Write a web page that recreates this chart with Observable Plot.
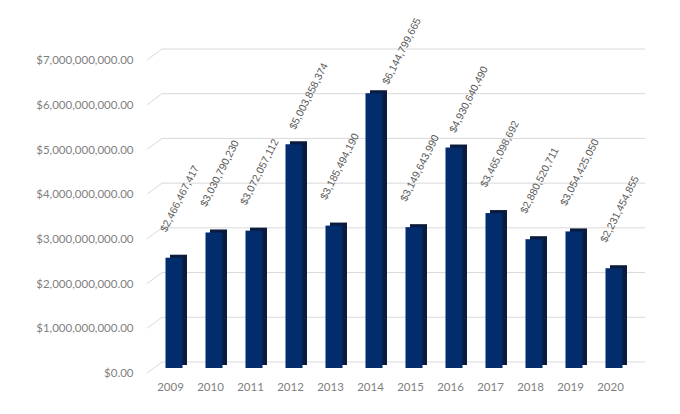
<!DOCTYPE html>
<html><head><meta charset="utf-8">
<script src="https://cdn.jsdelivr.net/npm/d3@7"></script>
<script src="https://cdn.jsdelivr.net/npm/@observablehq/plot@0.6"></script>
<style>body{margin:0;background:#fff;}</style>
</head><body><div id="chart"></div>
<script>
const years = ["2009","2010","2011","2012","2013","2014","2015","2016","2017","2018","2019","2020"];
const values = [2466467417, 3030790230, 3072057112, 5003858374, 3185494190, 6144799665, 3149643990, 4930640490, 3465098692, 2880520711, 3054425050, 2231454855];
const yTicks = [0, 1e9, 2e9, 3e9, 4e9, 5e9, 6e9, 7e9];

const data = years.map((year, i) => ({year, value: values[i]}));
const fmtAxis = d3.format("$,.2f");
const fmtLabel = d3.format("$,");

const backGrid = Plot.ruleY(yTicks, {
  y: d => d,
  render(index, scales, values, dims) {
    const g = d3.create("svg:g");
    const x0 = dims.marginLeft, x1 = dims.width - dims.marginRight;
    for (const i of index) {
      const y = scales.y(yTicks[i]);
      g.append("path")
        .attr("d", `M${x0 - 5},${y + 5}L${x0 + 10},${y - 6}L${x1 + 10},${y - 6}`)
        .attr("fill", "none").attr("stroke", "#d9d9d9").attr("stroke-width", 1);
    }
    return g.node();
  }
});

// rotated value labels, offset in screen space from the bar top centre
function valueLabels(sub, ox, oy) {
  return Plot.text(sub, {
    x: "year", y: "value", text: d => fmtLabel(d.value),
    render(index, scales, values, dims) {
      const half = (dims.width - dims.marginLeft - dims.marginRight) / years.length / 2;
      const g = d3.create("svg:g")
        .attr("font-family", "Liberation Sans, Arial, sans-serif")
        .attr("font-size", 10.5).attr("fill", "#595959").attr("text-anchor", "start");
      for (const i of index) {
        const cx = scales.x(sub[i].year) + half;
        const cy = scales.y(sub[i].value);
        g.append("text")
          .attr("transform", `translate(${cx + ox},${cy + oy}) rotate(-63)`)
          .text(fmtLabel(sub[i].value));
      }
      return g.node();
    }
  });
}

const chart = Plot.plot({
  width: 680, height: 414,
  marginLeft: 152, marginRight: 45, marginTop: 55, marginBottom: 46,
  style: {background: "#fff", overflow: "visible"},
  x: {domain: years, padding: 0, label: null},
  y: {domain: [0, 7e9], label: null},
  marks: [
    backGrid,
    Plot.barY(data, {x: "year", y: "value", fill: "#0b1b3e", insetLeft: 11.5, insetRight: 11.5, dx: 4.5, dy: -3}),
    Plot.barY(data, {x: "year", y: "value", fill: "#032c6c", insetLeft: 11.5, insetRight: 11.5}),
    valueLabels(data.filter(d => d.value < 4.5e9), -8, -25),
    valueLabels(data.filter(d => d.value >= 4.5e9 && d.value < 6e9), 1, -14),
    valueLabels(data.filter(d => d.value >= 6e9), 14, -8),
    Plot.axisY(yTicks, {tickSize: 0, tickPadding: 19, dy: 5, tickFormat: fmtAxis, fill: "#7f7f7f",
      fontSize: 11.5, fontFamily: "Lato, sans-serif", label: null}),
    Plot.axisX({tickSize: 0, tickPadding: 14, dx: -4, fill: "#7f7f7f",
      fontSize: 11.5, fontFamily: "Lato, sans-serif", label: null})
  ]
});
document.getElementById("chart").appendChild(chart);
</script>
</body></html>
